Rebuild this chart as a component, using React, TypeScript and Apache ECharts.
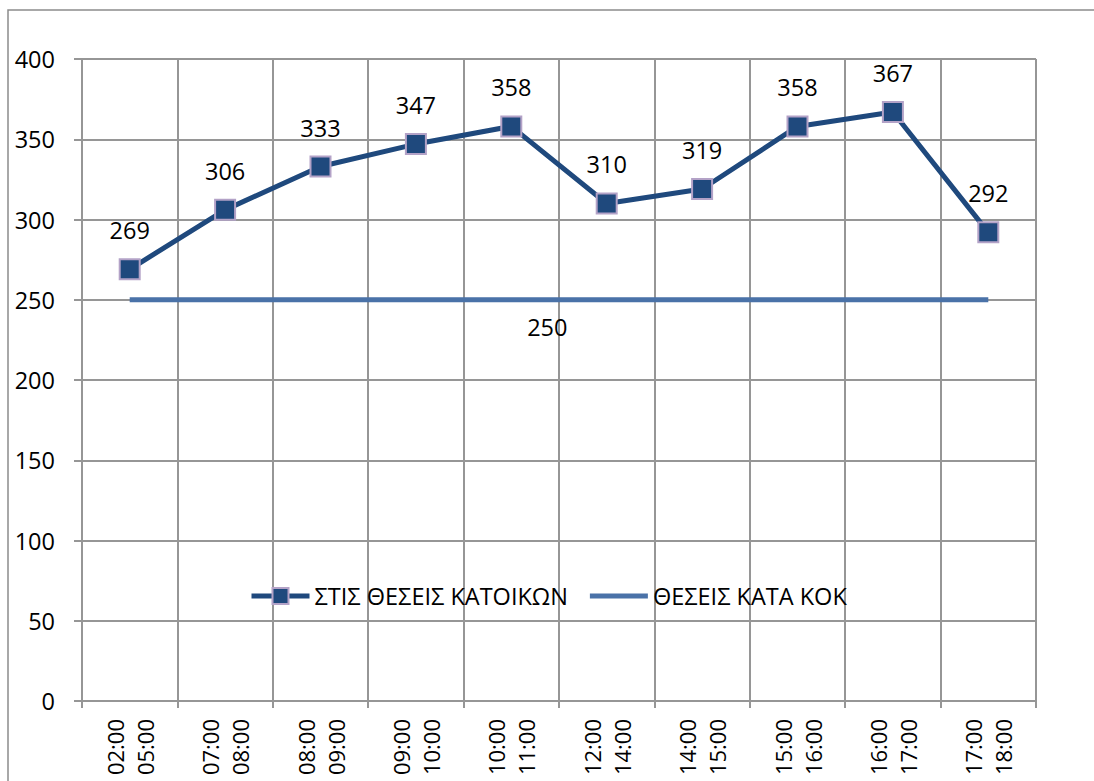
import React, { useEffect, useRef } from "react";
import * as echarts from "echarts";

const categories = [
  "02:00\n05:00",
  "07:00\n08:00",
  "08:00\n09:00",
  "09:00\n10:00",
  "10:00\n11:00",
  "12:00\n14:00",
  "14:00\n15:00",
  "15:00\n16:00",
  "16:00\n17:00",
  "17:00\n18:00",
];
const residentsValues = [269, 306, 333, 347, 358, 310, 319, 358, 367, 292];
const kokValues = [250, 250, 250, 250, 250, 250, 250, 250, 250, 250];
const kokLabelIndex = 4;

const FONT = "Open Sans";
const GRID = "#969696";

export default function App() {
  const ref = useRef<HTMLDivElement>(null);
  useEffect(() => {
    if (!ref.current) return;
    const chart = echarts.init(ref.current, undefined, { renderer: "svg" });
    chart.setOption({
      animation: false,
      backgroundColor: "#ffffff",
      textStyle: { fontFamily: FONT },
      graphic: [
        {
          type: "rect",
          shape: { x: 8, y: 10, width: 1120, height: 800 },
          style: { fill: "none", stroke: "#8c8c8c", lineWidth: 1.5 },
          silent: true,
        },
      ],
      grid: { left: 82, top: 59, right: 58, bottom: 80, containLabel: false },
      legend: {
        left: 244,
        top: 579,
        itemWidth: 58,
        itemHeight: 20,
        itemGap: 22,
        lineStyle: { width: 5 },
        textStyle: { fontFamily: FONT, fontSize: 23.5, color: "#000" },
        data: [
          { name: "ΣΤΙΣ ΘΕΣΕΙΣ ΚΑΤΟΙΚΩΝ" },
          {
            name: "ΘΕΣΕΙΣ ΚΑΤΑ ΚΟΚ",
            icon: "path://M0,0 L60,0 L60,5 L0,5 Z",
          },
        ],
      },
      xAxis: {
        type: "category",
        data: categories,
        boundaryGap: true,
        axisLine: { lineStyle: { color: GRID, width: 2 } },
        axisTick: { show: true, length: 7, lineStyle: { color: GRID, width: 2 } },
        splitLine: { show: true, lineStyle: { color: GRID, width: 2 } },
        axisLabel: {
          rotate: 90,
          interval: 0,
          margin: 18,
          fontFamily: FONT,
          fontSize: 22,
          lineHeight: 30,
          color: "#000",
        },
      },
      yAxis: {
        type: "value",
        min: 0,
        max: 400,
        interval: 50,
        axisLine: { show: true, lineStyle: { color: GRID, width: 2 } },
        axisTick: { show: true, length: 8, lineStyle: { color: GRID, width: 2 } },
        splitLine: { show: true, lineStyle: { color: GRID, width: 2 } },
        axisLabel: {
          margin: 27,
          fontFamily: FONT,
          fontSize: 23.5,
          color: "#000",
        },
      },
      series: [
        {
          name: "ΣΤΙΣ ΘΕΣΕΙΣ ΚΑΤΟΙΚΩΝ",
          type: "line",
          data: residentsValues,
          symbol: "rect",
          symbolSize: 20,
          lineStyle: { color: "#1f497d", width: 5 },
          itemStyle: { color: "#1f497d", borderColor: "#b3a2c7", borderWidth: 2 },
          label: {
            show: true,
            position: "top",
            distance: 16,
            fontFamily: FONT,
            fontSize: 23.5,
            color: "#000",
          },
          z: 3,
        },
        {
          name: "ΘΕΣΕΙΣ ΚΑΤΑ ΚΟΚ",
          type: "line",
          data: kokValues,
          symbol: "none",
          showSymbol: false,
          lineStyle: { color: "#4a72a8", width: 5 },
          itemStyle: { color: "#4a72a8" },
          markPoint: {
            symbol: "circle",
            symbolSize: 0,
            silent: true,
            data: [
              {
                coord: [kokLabelIndex, kokValues[kokLabelIndex]],
                value: kokValues[kokLabelIndex],
              },
            ],
            label: {
              show: true,
              position: "bottom",
              distance: 15,
              offset: [36, 0],
              fontFamily: FONT,
              fontSize: 23.5,
              color: "#000",
            },
          },
          z: 2,
        },
      ],
    });
    return () => chart.dispose();
  }, []);
  return (
    <div
      ref={ref}
      style={{ position: "absolute", left: 0, top: 0, width: 1094, height: 781 }}
    />
  );
}
